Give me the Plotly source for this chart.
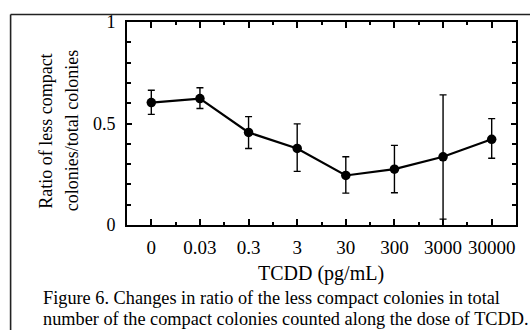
import plotly.graph_objects as go

# ---- data ----
doses = ["0", "0.03", "0.3", "3", "30", "300", "3000", "30000"]
ratio = [0.603, 0.623, 0.456, 0.377, 0.244, 0.275, 0.336, 0.422]
err_upper = [0.664, 0.676, 0.534, 0.498, 0.336, 0.392, 0.641, 0.524]
err_lower = [0.545, 0.574, 0.377, 0.264, 0.157, 0.159, 0.029, 0.329]
y_ticks = [0, 0.5, 1]
y_ticktext = ["0", "0.5", "1"]

x_title = "TCDD (pg/mL)"
y_title_lines = ["Ratio of less compact", "colonies/total colonies"]
caption_lines = [
    "Figure 6. Changes in ratio of the less compact colonies in total",
    "number of the compact colonies counted along the dose of TCDD.",
]

W, H = 530, 330
L, R, T, B = 127, 12, 20, 105
PW, PH = W - L - R, H - T - B


def px(x):
    return (x - L) / PW


def py(y):
    return (H - B - y) / PH


FONT = "Liberation Serif"
xs = list(range(len(doses)))
plus = [u - v for u, v in zip(err_upper, ratio)]
minus = [v - l for v, l in zip(ratio, err_lower)]

fig = go.Figure()
fig.add_trace(go.Scatter(
    x=xs, y=ratio, mode="lines+markers",
    line=dict(color="black", width=2.2),
    marker=dict(color="black", size=9.5),
    error_y=dict(type="data", symmetric=False, array=plus, arrayminus=minus,
                 color="black", thickness=1.4, width=3.5),
    showlegend=False,
))

fig.update_xaxes(
    range=[-0.5, len(doses) - 0.5], tickmode="array", tickvals=xs, ticktext=doses,
    showgrid=False, zeroline=False, showline=True, linecolor="black", linewidth=1.8,
    mirror="ticks", ticks="inside", ticklen=6, tickwidth=1.5, tickcolor="black",
    minor=dict(tickmode="array", tickvals=[i + 0.5 for i in xs[:-1]], ticks="inside",
               ticklen=3, tickwidth=1.5, tickcolor="black", showgrid=False),
    tickfont=dict(family=FONT, size=19, color="black"),
    ticklabelstandoff=4,
)
fig.update_yaxes(
    range=[0, 1], tickmode="array", tickvals=y_ticks, ticktext=y_ticktext,
    showgrid=False, zeroline=False, showline=True, linecolor="black", linewidth=1.8,
    mirror="ticks", ticks="inside", ticklen=5, tickwidth=1.5, tickcolor="black",
    minor=dict(dtick=0.1, tick0=0, ticks="inside", ticklen=4, tickwidth=1.5,
               tickcolor="black", showgrid=False),
    tickfont=dict(family=FONT, size=18, color="black"),
    ticklabelstandoff=6,
)

ann = []
ann.append(dict(text=x_title, x=px(322), y=py(274), xref="paper", yref="paper",
                xanchor="center", yanchor="middle", showarrow=False,
                font=dict(family=FONT, size=20, color="black")))
for t, cx in zip(y_title_lines, [45.5, 72]):
    ann.append(dict(text=t, x=px(cx), y=py(130), xref="paper", yref="paper",
                    xanchor="center", yanchor="middle", textangle=-90, showarrow=False,
                    font=dict(family=FONT, size=18, color="black")))
for t, cy in zip(caption_lines, [299, 320]):
    ann.append(dict(text=t, x=px(41), y=py(cy), xref="paper", yref="paper",
                    xanchor="left", yanchor="middle", showarrow=False,
                    font=dict(family=FONT, size=18.3, color="black")))

shapes = [
    dict(type="line", xref="paper", yref="paper", x0=px(10), x1=px(W + 5),
         y0=py(12.5), y1=py(12.5), line=dict(color="#222", width=1.6)),
    dict(type="line", xref="paper", yref="paper", x0=px(10), x1=px(10),
         y0=py(12.5), y1=py(H + 5), line=dict(color="#222", width=1.6)),
]

fig.update_layout(
    width=W, height=H, margin=dict(l=L, r=R, t=T, b=B),
    paper_bgcolor="white", plot_bgcolor="white",
    annotations=ann, shapes=shapes,
)

fig.write_html("out.html")
